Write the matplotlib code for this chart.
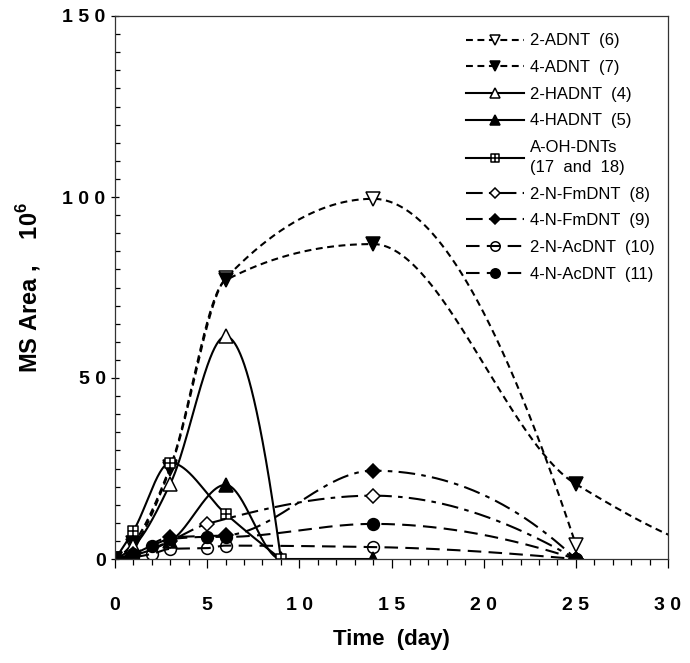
import numpy as np
import matplotlib
matplotlib.use("Agg")
import matplotlib.pyplot as plt
from matplotlib.path import Path
from matplotlib.ticker import MultipleLocator, FuncFormatter

plt.rcParams['font.family'] = ['Liberation Sans', 'DejaVu Sans']
plt.rcParams['mathtext.fontset'] = 'custom'
plt.rcParams['mathtext.rm'] = 'Liberation Sans'
plt.rcParams['mathtext.bf'] = 'Liberation Sans:bold'

# data (day, MS area x 10^6)
adnt2_days = [0, 1, 3, 6, 14, 25]
adnt2_vals = [0, 3.7, 25.0, 77.5, 99.5, 4.0]
adnt4_days = [0, 1, 3, 6, 14, 25, 35]
adnt4_vals = [0, 4.5, 25.5, 77.0, 87.0, 20.7, 0]
hadnt2_days = [0, 1, 3, 6, 9]
hadnt2_vals = [0, 3.5, 20.8, 61.5, 0]
hadnt4_days = [0, 1, 3, 6, 9, 14]
hadnt4_vals = [0, 1.0, 5.0, 20.5, 0, 0]
aoh_days = [0, 1, 3, 6, 9]
aoh_vals = [0, 7.8, 26.6, 12.5, 0]
fm2_days = [0, 1, 3, 5, 14, 25]
fm2_vals = [0, 1.0, 5.0, 9.7, 17.5, 0]
fm4_days = [0, 1, 3, 6, 14, 25]
fm4_vals = [0, 1.5, 6.0, 6.5, 24.4, 0]
ac2_days = [0, 1, 2, 3, 5, 6, 14, 25]
ac2_vals = [0, 0.5, 1.4, 2.8, 3.0, 3.7, 3.3, 0]
ac4_days = [0, 1, 2, 3, 5, 6, 14, 25]
ac4_vals = [0, 1.4, 3.7, 5.5, 6.1, 6.1, 9.7, 0]

labels = ["2-ADNT  (6)", "4-ADNT  (7)", "2-HADNT  (4)", "4-HADNT  (5)",
          "A-OH-DNTs\n(17  and  18)", "2-N-FmDNT  (8)", "4-N-FmDNT  (9)",
          "2-N-AcDNT  (10)", "4-N-AcDNT  (11)"]


def pchip(x, y, xs):
    x = np.asarray(x, float)
    y = np.asarray(y, float)
    h = np.diff(x)
    d = np.diff(y) / h
    n = len(x)
    m = np.zeros(n)
    for k in range(1, n - 1):
        if d[k - 1] * d[k] > 0:
            w1 = 2 * h[k] + h[k - 1]
            w2 = h[k] + 2 * h[k - 1]
            m[k] = (w1 + w2) / (w1 / d[k - 1] + w2 / d[k])

    def end(h0, h1, d0, d1):
        s = ((2 * h0 + h1) * d0 - h0 * d1) / (h0 + h1)
        if np.sign(s) != np.sign(d0):
            s = 0.0
        elif np.sign(d0) != np.sign(d1) and abs(s) > abs(3 * d0):
            s = 3 * d0
        return s

    m[0] = end(h[0], h[1], d[0], d[1])
    m[-1] = end(h[-1], h[-2], d[-1], d[-2])
    i = np.clip(np.searchsorted(x, xs) - 1, 0, n - 2)
    t = (xs - x[i]) / h[i]
    h00 = 2 * t**3 - 3 * t**2 + 1
    h10 = t**3 - 2 * t**2 + t
    h01 = -2 * t**3 + 3 * t**2
    h11 = t**3 - t**2
    return h00 * y[i] + h10 * h[i] * m[i] + h01 * y[i + 1] + h11 * h[i] * m[i + 1]


# square with a cross inside
sq_plus = Path([(-1, -1), (1, -1), (1, 1), (-1, 1), (-1, -1),
                (-1, 0), (1, 0), (0, -1), (0, 1)],
               [Path.MOVETO, Path.LINETO, Path.LINETO, Path.LINETO, Path.CLOSEPOLY,
                Path.MOVETO, Path.LINETO, Path.MOVETO, Path.LINETO])

short_dash = (0, (3.3, 2.2))
dash_dot = (0, (8, 3, 2.2, 3))
long_dash = (0, (6.5, 3.5))

series = [
    (adnt2_days, adnt2_vals, 'v', 'white', short_dash, 9.5),
    (adnt4_days, adnt4_vals, 'v', 'black', short_dash, 9.5),
    (hadnt2_days, hadnt2_vals, '^', 'white', '-', 9.5),
    (hadnt4_days, hadnt4_vals, '^', 'black', '-', 9.5),
    (aoh_days, aoh_vals, sq_plus, 'white', '-', 7.5),
    (fm2_days, fm2_vals, 'D', 'white', dash_dot, 7),
    (fm4_days, fm4_vals, 'D', 'black', dash_dot, 7),
    (ac2_days, ac2_vals, 'o', 'none', long_dash, 8.5),
    (ac4_days, ac4_vals, 'o', 'black', long_dash, 8.5),
]

fig = plt.figure(figsize=(6.9, 6.63), dpi=100)
ax = fig.add_axes([115 / 690, 1 - 559 / 663, 553 / 690, 543 / 663])

for (days, vals, mk, fc, ls, ms), lab in zip(series, labels):
    xs = np.unique(np.concatenate([np.linspace(days[0], days[-1], 500), days]))
    ys = pchip(days, vals, xs)
    mev = list(np.searchsorted(xs, days))
    ax.plot(xs, ys, color='black', lw=1.5, linestyle=ls, marker=mk,
            markevery=mev, ms=ms, mfc=fc, mec='black', mew=1.1, label=lab)

ax.set_xlim(0, 30)
ax.set_ylim(0, 150)
ax.xaxis.set_major_locator(MultipleLocator(5))
ax.xaxis.set_minor_locator(MultipleLocator(1))
ax.yaxis.set_major_locator(MultipleLocator(50))
ax.yaxis.set_minor_locator(MultipleLocator(5))

spaced = FuncFormatter(lambda v, p: " ".join(str(int(round(v)))))
ax.xaxis.set_major_formatter(spaced)
ax.yaxis.set_major_formatter(spaced)

ax.tick_params(axis='x', which='major', direction='out', length=6.5, width=0.9, pad=21)
ax.tick_params(axis='x', which='minor', direction='out', length=4.3, width=0.9)
ax.tick_params(axis='y', which='major', direction='inout', length=5.5, width=0.9, pad=4)
ax.tick_params(axis='y', which='minor', direction='in', length=3.6, width=0.9)
for t in ax.get_xticklabels() + ax.get_yticklabels():
    t.set_fontsize(14)
    t.set_fontweight('bold')
for s in ax.spines.values():
    s.set_linewidth(0.9)
    s.set_color('#333333')

ax.set_xlabel("Time  (day)", fontsize=16, fontweight='bold', va='top')
ax.xaxis.set_label_coords(0.5, -0.128)
ax.set_ylabel("MS Area ,    10$^{\\mathbf{6}}$", fontsize=17, fontweight='bold')
ax.yaxis.set_label_coords(-0.13, 0.5)

leg = ax.legend(loc='upper left', bbox_to_anchor=(0.635, 0.968), frameon=False,
                fontsize=12, handlelength=3.5, handletextpad=0.35,
                labelspacing=0.7, borderpad=0, borderaxespad=0, numpoints=1,
                markerscale=0.8)
leg.get_texts()[4].set_linespacing(1.4)

fig.savefig("out.png", dpi=100)
